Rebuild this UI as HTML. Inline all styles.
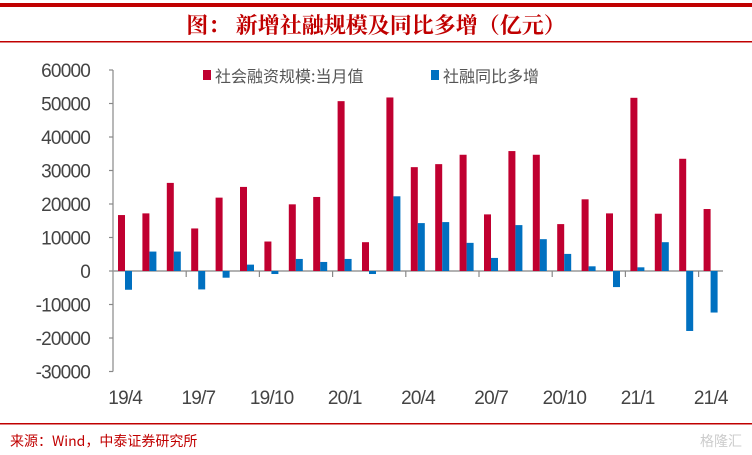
<!DOCTYPE html>
<html><head><meta charset="utf-8"><style>
body{margin:0;background:#fff;}
svg{display:block;font-family:"Liberation Sans","Noto Sans CJK SC",sans-serif;}
</style></head><body>
<svg id="c" width="752" height="455">
<rect x="0" y="3" width="752" height="4" fill="#c00000"/>
<text x="376" y="33" text-anchor="middle" font-size="22" font-weight="bold" fill="#c00000" font-family="'Noto Serif CJK SC','Noto Sans CJK SC',serif">图：  新增社融规模及同比多增（亿元）</text>
<rect x="0" y="41" width="752" height="1.5" fill="#c00000"/>
<rect x="0" y="423" width="752" height="1.5" fill="#c00000"/>
<text x="10" y="446" font-size="14" fill="#c00000" font-family="'Noto Sans CJK SC',monospace">来源：Wind，中泰证券研究所</text>
<text x="742" y="446" text-anchor="end" font-size="14" fill="#ccc" font-family="'Noto Sans CJK SC',sans-serif">格隆汇</text>
<g>
<rect x="203" y="70" width="8" height="10" fill="#c00030"/>
<text x="215" y="82" font-size="16" fill="#555" font-family="'Noto Sans CJK SC',sans-serif">社会融资规模:当月值</text>
<rect x="431" y="70" width="8" height="10" fill="#0070c0"/>
<text x="443" y="82" font-size="16" fill="#555" font-family="'Noto Sans CJK SC',sans-serif">社融同比多增</text>
</g>
<g id="plot"></g>
</svg>
<script>
const categories=['19/4','19/5','19/6','19/7','19/8','19/9','19/10','19/11','19/12','20/1','20/2','20/3','20/4','20/5','20/6','20/7','20/8','20/9','20/10','20/11','20/12','21/1','21/2','21/3','21/4'];
const totalValues=[16700,17200,26300,12700,21900,25100,8800,19900,22100,50700,8600,51800,31000,31900,34700,16900,35800,34700,14000,21400,17200,51700,17100,33500,18500];
const yoyValues=[-5600,5800,5800,-5500,-2000,1900,-900,3600,2700,3600,-900,22300,14300,14600,8400,3900,13700,9500,5100,1400,-4800,1100,8600,-17900,-12400];
const yTicks=[60000,50000,40000,30000,20000,10000,0,-10000,-20000,-30000];
const NS='http://www.w3.org/2000/svg';
const g=document.getElementById('plot');
const x0=113,step=24.4,yMin=-30000,yMax=60000,yTop=70,yBot=371.5;
function y(v){return yBot-(v-yMin)/(yMax-yMin)*(yBot-yTop);}
function xs(i){return x0+step*i;}
function el(t,a){const e=document.createElementNS(NS,t);for(const k in a)e.setAttribute(k,a[k]);g.appendChild(e);return e;}
yTicks.forEach(v=>{
 const t=el('text',{x:90,y:y(v)+7,'text-anchor':'end','font-size':19,fill:'#444','letter-spacing':'-0.8'});
 t.textContent=v;
 
 
 const l=el('line',{x1:109,x2:113,y1:y(v),y2:y(v),stroke:'#888','stroke-width':1.2});
 
 
});
const ax=el('line',{x1:113,x2:113,y1:y(yMax),y2:y(yMin),stroke:'#888','stroke-width':1.2});


const zx=el('line',{x1:113,x2:xs(25),y1:y(0),y2:y(0),stroke:'#999','stroke-width':1.5});


categories.forEach((c,i)=>{
 if(i%3===0&&i>0){const tk=el('line',{x1:xs(i),x2:xs(i),y1:y(0),y2:y(0)+6,stroke:'#888','stroke-width':1.2});
 
 }
 const r=el('rect',{x:xs(i)+5,width:7,y:Math.min(y(totalValues[i]),y(0)),height:Math.abs(y(totalValues[i])-y(0)),fill:'#c00030'});
 
 
 const b=el('rect',{x:xs(i)+12,width:7,y:Math.min(y(yoyValues[i]),y(0)),height:Math.abs(y(yoyValues[i])-y(0)),fill:'#0070c0'});
 
 
 if(i%3===0){const t=el('text',{x:xs(i)+step/2,y:404,'text-anchor':'middle','font-size':19,fill:'#444','letter-spacing':'-0.8'});
 t.textContent=c;
 
 }
});
</script>
</body></html>
